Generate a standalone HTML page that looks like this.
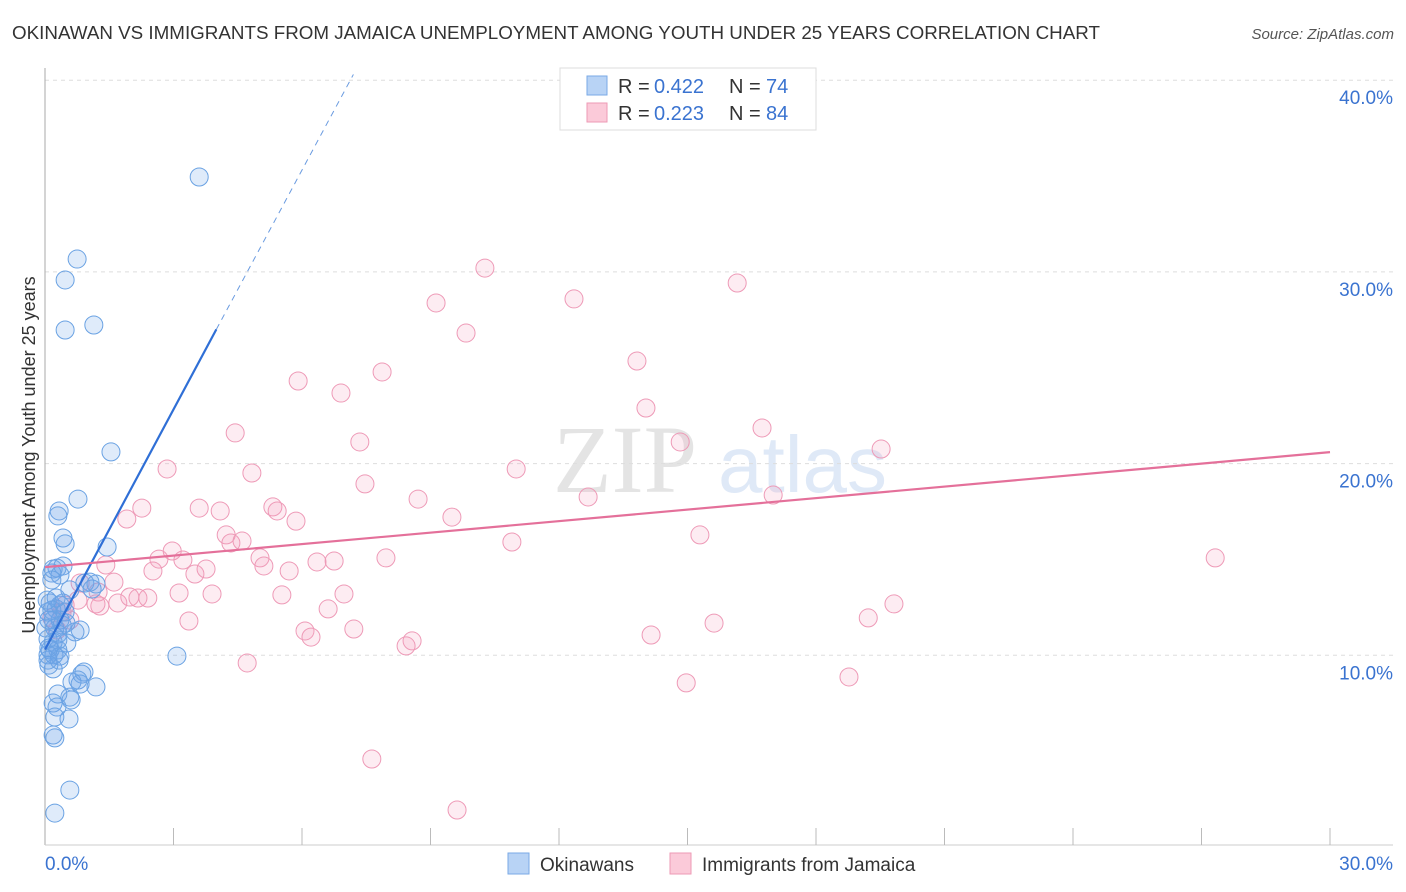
<!DOCTYPE html>
<html><head><meta charset="utf-8">
<style>
body{margin:0;background:#fff;font-family:"Liberation Sans",sans-serif;}
#wrap{position:relative;width:1406px;height:892px;overflow:hidden;}
svg{position:absolute;left:0;top:0;}
</style></head>
<body>
<div id="wrap">
<svg id="chart" width="1406" height="892">
  <text x="12" y="39" font-size="18" fill="#333" textLength="1088" lengthAdjust="spacingAndGlyphs">OKINAWAN VS IMMIGRANTS FROM JAMAICA UNEMPLOYMENT AMONG YOUTH UNDER 25 YEARS CORRELATION CHART</text>
  <text x="1394" y="39" font-size="15" fill="#555" font-style="italic" text-anchor="end">Source: ZipAtlas.com</text>
  <g>
    <text x="553" y="492" font-family="Liberation Serif,serif" font-size="96" fill="#e4e4e4">ZIP</text>
    <text x="718" y="492" font-size="80" fill="#dfe9f7">atlas</text>
  </g>
  <g id="grid"></g>
  <g id="axes"></g>
  <g id="pinkpts"></g>
  <g id="bluepts"></g>
  <g id="lines"></g>
  <text x="35" y="455" font-size="18" fill="#333" text-anchor="middle" transform="rotate(-90 35 455)">Unemployment Among Youth under 25 years</text>
  <g>
    <rect x="560" y="68" width="256" height="62" fill="#fff" stroke="#ddd"/>
    <rect x="587" y="76" width="20" height="19" fill="#b8d3f5" stroke="#7aa9e6"/>
    <rect x="587" y="103" width="20" height="19" fill="#fbcad9" stroke="#ee9ab5"/>
    <text y="93" font-size="20" fill="#333"><tspan x="618">R =</tspan><tspan x="654" fill="#3a73d0">0.422</tspan><tspan x="729">N =</tspan><tspan x="766" fill="#3a73d0">74</tspan></text>
    <text y="120" font-size="20" fill="#333"><tspan x="618">R =</tspan><tspan x="654" fill="#3a73d0">0.223</tspan><tspan x="729">N =</tspan><tspan x="766" fill="#3a73d0">84</tspan></text>
  </g>
  <g>
    <rect x="508" y="853" width="21" height="21" fill="#b8d3f5" stroke="#7aa9e6"/>
    <text x="540" y="871" font-size="19" fill="#333">Okinawans</text>
    <rect x="670" y="853" width="21" height="21" fill="#fbcad9" stroke="#ee9ab5"/>
    <text x="702" y="871" font-size="19" fill="#333">Immigrants from Jamaica</text>
  </g>
</svg>
</div>
<script>
const yTicks=[10,20,30,40];
const yTickLabels=["10.0%","20.0%","30.0%","40.0%"];
const xTickCount=10;
const xMax=30;
const blueX=[3.6,0.75,0.47,1.14,0.47,1.54,0.77,0.33,0.30,0.42,0.47,1.45,0.28,0.42,0.16,0.19,0.93,1.19,1.1,0.12,0.35,0.26,0.42,0.07,0.19,0.35,0.82,0.7,0.02,0.23,0.3,0.07,0.19,0.51,0.09,0.3,0.07,0.35,3.08,0.19,0.86,0.91,0.77,0.82,0.63,1.19,0.3,0.58,0.19,0.28,0.23,0.56,0.19,0.23,0.58,0.23,0.07,0.12,0.16,0.26,0.35,0.58,0.4,0.05,0.21,0.33,0.47,0.16,0.09,0.61,0.3,1.05,0.49,0.09];
const blueY=[34.95,30.67,29.58,27.23,26.97,20.61,18.15,17.53,17.27,16.12,15.81,15.65,14.55,14.66,14.29,14.5,13.77,13.72,13.46,12.73,12.62,12.42,12.73,12.26,11.84,11.84,11.32,11.22,11.42,11.42,11.11,10.85,10.69,10.64,10.38,10.28,10.02,9.96,9.96,9.29,9.02,9.13,8.71,8.5,8.61,8.35,7.98,7.82,7.51,7.3,6.78,6.68,5.84,5.69,2.97,1.77,9.75,10.28,12.36,12.99,14.19,13.41,11.58,12.88,10.02,9.75,12.26,13.93,11.84,7.67,10.8,13.82,11.68,9.49];
const pinkX=[10.27,9.13,12.35,16.16,9.83,13.82,5.91,7.87,6.91,14.03,4.44,7.35,16.74,14.83,19.52,2.85,4.83,11.0,7.47,12.68,8.71,17.0,1.91,2.26,3.6,4.09,5.32,5.42,5.86,9.5,10.9,15.29,4.23,4.34,4.6,2.66,2.97,3.22,5.02,5.11,6.35,6.75,7.96,2.52,3.5,3.76,5.7,27.32,1.42,1.61,0.82,1.24,1.28,1.19,1.7,1.98,2.17,2.4,3.13,3.9,5.53,6.98,6.61,0.77,0.58,3.36,6.07,6.21,7.21,8.57,8.43,19.22,19.82,15.62,14.15,4.72,14.97,18.77,7.63,9.62,0.4,0.28,0.16,0.47];
const pinkY=[30.2,28.38,28.59,29.42,26.81,25.35,24.31,24.78,23.68,22.9,21.6,21.13,21.86,21.13,20.76,19.72,19.51,19.72,18.94,18.26,18.15,18.36,17.11,17.68,17.68,17.53,17.74,17.53,17.0,17.21,15.91,16.28,16.28,15.86,15.96,15.02,15.44,14.97,15.08,14.66,14.87,14.92,15.08,14.4,14.24,14.5,14.4,15.08,14.71,13.82,13.77,13.3,12.57,12.68,12.73,13.04,12.99,12.99,13.25,13.2,13.15,13.2,12.42,12.88,11.84,11.79,11.27,10.95,11.37,10.75,10.49,11.95,12.68,11.68,11.06,9.6,8.56,8.87,4.59,1.93,12.26,11.32,11.95,12.62];
const blueTrend=[0,10.3,4.0,27.0,7.2,40.3];
const pinkTrend=[0,14.6,30,20.6];

const NS="http://www.w3.org/2000/svg";
const X=v=>45+v*(1330-45)/xMax;
const Y=v=>847-v*19.17;
function mk(tag,attrs,parent){const e=document.createElementNS(NS,tag);for(const k in attrs)e.setAttribute(k,attrs[k]);parent.appendChild(e);return e;}
const grid=document.getElementById('grid'),axes=document.getElementById('axes');
yTicks.forEach((t,i)=>{
  const l=mk('line',{x1:45,x2:1393,y1:Y(t),y2:Y(t),stroke:'#ddd','stroke-dasharray':'4,4'},grid);
  
  
  const tx=mk('text',{x:1393,y:Y(t)+24,'font-size':19,fill:'#3a73d0','text-anchor':'end'},axes);
  tx.textContent=yTickLabels[i];
  
  
});
let a=mk('line',{x1:45,x2:45,y1:68,y2:845,stroke:'#aaa'},axes);


a=mk('line',{x1:45,x2:1393,y1:845,y2:845,stroke:'#ccc'},axes);


for(let i=1;i<=xTickCount;i++){
  const x=X(i*xMax/xTickCount);
  const t=mk('line',{x1:x,x2:x,y1:828,y2:845,stroke:'#bbb'},axes);
  
  
}
let tl=mk('text',{x:45,y:870,'font-size':19,fill:'#3a73d0'},axes);tl.textContent='0.0%';


tl=mk('text',{x:1393,y:870,'font-size':19,fill:'#3a73d0','text-anchor':'end'},axes);tl.textContent='30.0%';



const pg=document.getElementById('pinkpts');
pinkX.forEach((v,i)=>{
  const c=mk('circle',{cx:X(v),cy:Y(pinkY[i]),r:9,fill:'rgba(244,160,190,0.2)',stroke:'#ee9ab7','stroke-width':1},pg);
  
  
});
const bg=document.getElementById('bluepts');
blueX.forEach((v,i)=>{
  const c=mk('circle',{cx:X(v),cy:Y(blueY[i]),r:9,fill:'rgba(110,165,230,0.22)',stroke:'#6aa2e3','stroke-width':1},bg);
  
  
});
const lg=document.getElementById('lines');
let ln=mk('line',{x1:X(blueTrend[0]),y1:Y(blueTrend[1]),x2:X(blueTrend[2]),y2:Y(blueTrend[3]),stroke:'#2f6fd6','stroke-width':2.2},lg);


ln=mk('line',{x1:X(blueTrend[2]),y1:Y(blueTrend[3]),x2:X(blueTrend[4]),y2:Y(blueTrend[5]),stroke:'#6a9be0','stroke-width':1,'stroke-dasharray':'6,5'},lg);


ln=mk('line',{x1:X(pinkTrend[0]),y1:Y(pinkTrend[1]),x2:X(pinkTrend[2]),y2:Y(pinkTrend[3]),stroke:'#e4709a','stroke-width':2.2},lg);


</script>
</body></html>
